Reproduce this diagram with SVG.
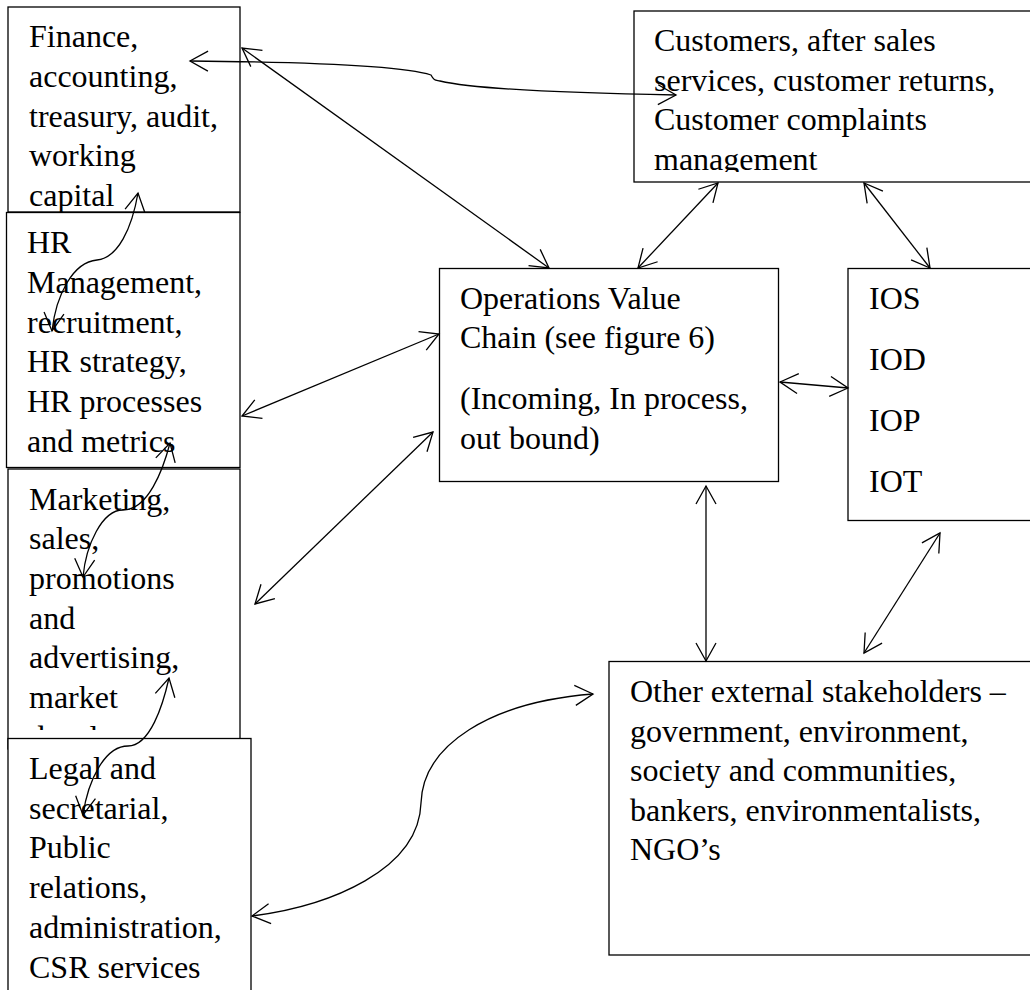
<svg xmlns="http://www.w3.org/2000/svg" width="1030" height="990" viewBox="0 0 1030 990">
<style>
.box{fill:#fff;stroke:#000;stroke-width:1.3}
text{font-family:"Liberation Serif","Times New Roman",serif;font-size:32px;fill:#000}
.c{fill:none;stroke:#000;stroke-width:1.3;marker-start:url(#a);marker-end:url(#a)}
</style>
<defs>
<marker id="a" markerUnits="userSpaceOnUse" markerWidth="26" markerHeight="26" refX="20" refY="12" orient="auto-start-reverse" viewBox="0 0 26 24"><path d="M2 2 L20 12 L2 22" fill="none" stroke="#000" stroke-width="1.3"/></marker>
<clipPath id="cf"><rect x="0" y="0" width="300" height="212"/></clipPath>
<clipPath id="cc"><rect x="630" y="0" width="400" height="172"/></clipPath>
<clipPath id="cm"><rect x="0" y="460" width="300" height="270"/></clipPath>
</defs>
<rect width="1030" height="990" fill="#fff"/>
<g id="finance"><rect class="box" x="8" y="7" width="232" height="205"/>
<g clip-path="url(#cf)"><text x="29" y="47">Finance,</text><text x="29" y="87">accounting,</text><text x="29" y="127">treasury, audit,</text><text x="29" y="166">working</text><text x="29" y="206">capital</text></g></g>
<g id="hr"><rect class="box" x="6.5" y="212.5" width="233.500" height="255"/>
<text x="27" y="253">HR</text><text x="27" y="293">Management,</text><text x="27" y="333">recruitment,</text><text x="27" y="372">HR strategy,</text><text x="27" y="412">HR processes</text><text x="27" y="452">and metrics</text></g>
<g id="marketing"><rect class="box" x="8" y="469" width="232" height="280"/>
<g clip-path="url(#cm)"><text x="29" y="510">Marketing,</text><text x="29" y="549">sales,</text><text x="29" y="589">promotions</text><text x="29" y="629">and</text><text x="29" y="668">advertising,</text><text x="29" y="708">market</text><text x="29" y="748">development</text></g></g>
<g id="legal"><rect class="box" x="8" y="738.500" width="243" height="270"/>
<text x="29" y="779">Legal and</text><text x="29" y="819">secretarial,</text><text x="29" y="858">Public</text><text x="29" y="898">relations,</text><text x="29" y="938">administration,</text><text x="29" y="978">CSR services</text></g>
<g id="customers"><rect class="box" x="634" y="11" width="420" height="171"/>
<g clip-path="url(#cc)"><text x="654" y="51">Customers, after sales</text><text x="654" y="91">services, customer returns,</text><text x="654" y="130">Customer complaints</text><text x="654" y="170">management</text></g></g>
<g id="operations"><rect class="box" x="439.500" y="268.500" width="339" height="213"/>
<text x="460" y="309">Operations Value</text><text x="460" y="348">Chain (see figure 6)</text><text x="460" y="409">(Incoming, In process,</text><text x="460" y="449">out bound)</text></g>
<g id="ios"><rect class="box" x="848" y="268.500" width="220" height="252"/>
<text x="869" y="309">IOS</text><text x="869" y="370">IOD</text><text x="869" y="431">IOP</text><text x="869" y="492">IOT</text></g>
<g id="stakeholders"><rect class="box" x="609" y="661.500" width="450" height="293.500"/>
<text x="630" y="702">Other external stakeholders –</text><text x="630" y="742">government, environment,</text><text x="630" y="781">society and communities,</text><text x="630" y="821">bankers, environmentalists,</text><text x="630" y="860">NGO’s</text></g>
<g id="connectors">
<path class="c" d="M190 61 C300 62 400 65 431 75 C434 81 436 80 440 81 C470 88 560 93 676 95"/>
<path class="c" d="M242 48 L549 268"/>
<path class="c" d="M242 416 L439 334"/>
<path class="c" d="M255 604 L433 432"/>
<path class="c" d="M252 916 C330 906 419 870 421 803 C423 745 490 702 593 694"/>
<path class="c" d="M718 183 L638 268"/>
<path class="c" d="M864 183 L930 268"/>
<path class="c" d="M780 382 L848 388"/>
<path class="c" d="M706 486 L706 661"/>
<path class="c" d="M940 533 L864 653"/>
<path class="c" d="M138 193 C132 228 118 258 97 260 C73 262 56 295 52 331"/>
<path class="c" d="M170 443 C163 470 148 510 123 510 C102 510 86 545 83 577"/>
<path class="c" d="M169 678 C163 705 150 746 128 746 C105 746 88 780 83 815"/>
</g>
</svg>
